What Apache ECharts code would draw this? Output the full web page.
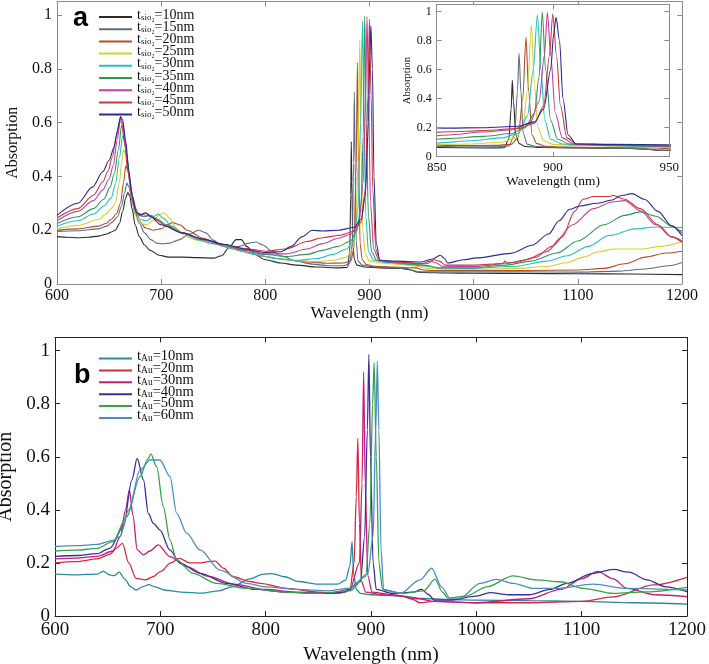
<!DOCTYPE html>
<html><head><meta charset="utf-8">
<script src="https://cdn.jsdelivr.net/npm/echarts@6/dist/echarts.min.js"></script>
<style>html,body{margin:0;padding:0;background:#fff}#c{width:709px;height:664px}</style>
</head><body><div id="c"></div>
<script>
// ---------- Panel a data (wavelength nm, absorption) ----------
const aThick = [10, 15, 20, 25, 30, 35, 40, 45, 50];
const aColors = ['#2b2b2b', '#5d6d86', '#b0502a', '#d6cf2e', '#26c0c0', '#2e9a50', '#c13fa6', '#cc3a3a', '#2a2a96'];
const a10 = [[600,0.176],[610,0.174],[620,0.172],[630,0.174],[640,0.178],[648,0.186],[652,0.193],[656,0.2],[660,0.225],[663,0.27],[666,0.32],[668,0.34],[670,0.325],[672,0.28],[675,0.22],[679,0.176],[684,0.145],[689,0.126],[698,0.107],[707,0.1],[720,0.1],[735,0.098],[750,0.096],[758,0.105],[765,0.135],[772,0.165],[777,0.165],[782,0.14],[790,0.11],[800,0.09],[815,0.078],[830,0.07],[850,0.063],[870,0.06],[879,0.062],[881,0.12],[882,0.33],[882.5,0.529],[883,0.38],[884,0.15],[885.5,0.09],[888,0.07],[895,0.063],[910,0.06],[930,0.058],[940,0.052],[945,0.045],[950,0.043],[975,0.041],[1000,0.04],[1050,0.039],[1100,0.038],[1150,0.037],[1200,0.035]];
const a15 = [[600,0.195],[620,0.198],[640,0.205],[648,0.215],[653,0.23],[658,0.25],[662,0.29],[665,0.34],[667,0.375],[669,0.36],[672,0.31],[675,0.26],[679,0.226],[684,0.19],[690,0.165],[696,0.152],[701,0.149],[708,0.152],[717,0.164],[727,0.185],[736,0.2],[743,0.19],[750,0.163],[758,0.142],[766,0.136],[775,0.14],[784,0.152],[791,0.156],[798,0.145],[805,0.125],[815,0.105],[830,0.085],[845,0.074],[860,0.068],[875,0.068],[881,0.075],[883.5,0.15],[884.7,0.45],[885.4,0.713],[886.2,0.45],[887.2,0.16],[889,0.085],[893,0.07],[900,0.065],[915,0.062],[935,0.058],[942,0.05],[948,0.045],[1000,0.045],[1050,0.045],[1100,0.044],[1140,0.048],[1165,0.056],[1187,0.068],[1200,0.08]];
const a20 = [[600,0.2],[620,0.205],[640,0.215],[647,0.225],[652,0.24],[657,0.26],[661,0.3],[664,0.38],[666,0.44],[668,0.42],[671,0.35],[675,0.27],[679,0.235],[685,0.208],[692,0.2],[700,0.205],[706,0.22],[711,0.228],[718,0.22],[725,0.2],[740,0.17],[760,0.14],[780,0.12],[800,0.102],[820,0.09],[840,0.082],[860,0.077],[875,0.078],[882,0.085],[885,0.13],[887,0.4],[888.4,0.823],[889.5,0.45],[891,0.15],[893,0.09],[897,0.072],[905,0.066],[920,0.063],[945,0.06],[952,0.052],[960,0.05],[1000,0.05],[1050,0.05],[1100,0.052],[1125,0.058],[1145,0.075],[1165,0.1],[1185,0.115],[1200,0.122]];
const a25 = [[600,0.205],[620,0.218],[640,0.24],[647,0.26],[652,0.28],[656,0.3],[660,0.38],[662,0.45],[664,0.5],[666,0.48],[669,0.4],[672,0.32],[676,0.25],[681,0.225],[686,0.22],[692,0.235],[698,0.258],[703,0.265],[708,0.245],[715,0.205],[725,0.175],[735,0.162],[750,0.15],[770,0.13],[790,0.11],[810,0.095],[830,0.087],[850,0.083],[865,0.088],[878,0.1],[884,0.13],[887,0.2],[889,0.45],[890.7,0.908],[892,0.5],[893.5,0.2],[896,0.11],[900,0.085],[910,0.078],[930,0.072],[945,0.066],[955,0.058],[970,0.055],[1000,0.055],[1040,0.057],[1070,0.065],[1090,0.08],[1105,0.1],[1120,0.12],[1135,0.13],[1160,0.13],[1180,0.14],[1200,0.158]];
const a30 = [[600,0.215],[620,0.235],[635,0.26],[645,0.29],[652,0.32],[656,0.37],[660,0.47],[663,0.55],[665,0.54],[668,0.45],[671,0.35],[675,0.27],[680,0.24],[686,0.235],[692,0.25],[697,0.26],[702,0.245],[710,0.215],[720,0.19],[735,0.165],[750,0.15],[770,0.13],[790,0.11],[810,0.095],[830,0.088],[850,0.095],[865,0.11],[878,0.13],[885,0.16],[889,0.28],[891.5,0.6],[893.3,0.977],[894.8,0.6],[896.5,0.25],[899,0.12],[904,0.088],[915,0.08],[940,0.072],[955,0.066],[965,0.06],[1000,0.058],[1040,0.066],[1070,0.085],[1090,0.105],[1110,0.14],[1130,0.18],[1155,0.205],[1175,0.212],[1200,0.21]];
const a35 = [[600,0.225],[620,0.25],[635,0.28],[645,0.315],[651,0.36],[655,0.41],[659,0.5],[662,0.59],[664,0.57],[667,0.48],[670,0.38],[674,0.29],[679,0.255],[684,0.25],[690,0.255],[697,0.24],[705,0.22],[720,0.19],[740,0.165],[760,0.145],[780,0.125],[800,0.11],[820,0.102],[840,0.11],[855,0.125],[870,0.14],[882,0.16],[888,0.2],[892,0.3],[894,0.55],[895.4,0.996],[896.8,0.6],[899,0.25],[902,0.12],[907,0.088],[920,0.08],[945,0.072],[957,0.068],[965,0.06],[1000,0.06],[1030,0.07],[1055,0.085],[1080,0.115],[1100,0.16],[1125,0.22],[1145,0.255],[1160,0.268],[1175,0.252],[1190,0.216],[1200,0.19]];
const a40 = [[600,0.235],[620,0.27],[635,0.31],[644,0.35],[650,0.39],[654,0.44],[658,0.54],[661,0.615],[663,0.6],[666,0.5],[669,0.4],[673,0.3],[678,0.258],[683,0.252],[688,0.255],[695,0.24],[705,0.215],[720,0.19],[740,0.165],[760,0.145],[780,0.127],[800,0.112],[820,0.112],[840,0.13],[855,0.15],[870,0.17],[882,0.185],[890,0.23],[894,0.38],[896.3,0.7],[897.6,0.994],[899,0.7],[901,0.3],[904,0.13],[909,0.088],[925,0.08],[950,0.075],[958,0.085],[963,0.08],[970,0.066],[1000,0.065],[1040,0.08],[1060,0.1],[1075,0.14],[1095,0.22],[1115,0.28],[1133,0.305],[1145,0.31],[1160,0.272],[1175,0.22],[1190,0.175],[1200,0.16]];
const a45 = [[600,0.245],[620,0.28],[635,0.33],[644,0.38],[649,0.42],[653,0.47],[657,0.55],[660,0.605],[662,0.6],[665,0.52],[668,0.42],[672,0.33],[677,0.265],[682,0.258],[686,0.262],[693,0.245],[705,0.215],[720,0.19],[740,0.166],[760,0.147],[780,0.132],[800,0.122],[820,0.13],[840,0.158],[855,0.172],[870,0.18],[885,0.195],[892,0.23],[896,0.35],[898.5,0.7],[899.9,0.984],[901.5,0.7],[903.2,0.35],[906,0.13],[910,0.088],[925,0.082],[955,0.075],[962,0.09],[967,0.085],[973,0.07],[1000,0.07],[1028,0.076],[1030,0.085],[1032,0.077],[1050,0.09],[1070,0.12],[1085,0.175],[1097,0.27],[1105,0.315],[1115,0.325],[1131,0.325],[1133,0.33],[1145,0.315],[1160,0.28],[1177,0.22],[1190,0.175],[1200,0.155]];
const a50 = [[600,0.255],[620,0.3],[634,0.36],[644,0.417],[650,0.46],[655,0.51],[658,0.57],[661,0.622],[663,0.61],[666,0.53],[669,0.42],[672,0.33],[676,0.265],[680,0.258],[685,0.265],[690,0.25],[700,0.22],[720,0.19],[740,0.167],[760,0.148],[780,0.13],[800,0.117],[815,0.12],[825,0.14],[835,0.175],[845,0.2],[855,0.197],[870,0.2],[885,0.21],[892,0.24],[896,0.33],[899,0.6],[900.3,0.85],[901.3,0.961],[902.8,0.8],[904.3,0.4],[906.5,0.15],[910,0.088],[925,0.085],[950,0.082],[960,0.092],[968,0.107],[972,0.095],[975,0.078],[990,0.09],[1003,0.097],[1036,0.114],[1056,0.144],[1072,0.186],[1082,0.235],[1092,0.277],[1102,0.29],[1118,0.3],[1133,0.312],[1141,0.328],[1152,0.336],[1164,0.315],[1177,0.27],[1190,0.216],[1200,0.18]];
const aData = [a10, a15, a20, a25, a30, a35, a40, a45, a50];

// ---------- Panel b data ----------
const bThick = [10, 20, 30, 40, 50, 60];
const bColors = ['#2a8a9e', '#d42a3c', '#c41c78', '#3b2d9c', '#36a34a', '#4a8ec6'];
const b10 = [[600,0.158],[620,0.155],[640,0.158],[646,0.168],[652,0.155],[656,0.152],[661,0.165],[666,0.14],[672,0.11],[677,0.098],[683,0.11],[689,0.118],[695,0.11],[705,0.097],[720,0.09],[740,0.086],[755,0.095],[768,0.11],[785,0.14],[797,0.157],[806,0.16],[818,0.148],[831,0.13],[850,0.12],[868,0.12],[876,0.135],[880,0.19],[882,0.28],[883.5,0.16],[886,0.1],[890,0.085],[900,0.08],[930,0.075],[950,0.066],[975,0.062],[1000,0.06],[1050,0.058],[1100,0.055],[1150,0.05],[1200,0.045]];
const b20 = [[600,0.2],[620,0.205],[640,0.215],[652,0.232],[658,0.255],[664,0.274],[670,0.2],[677,0.142],[686,0.136],[693,0.148],[700,0.167],[710,0.2],[718,0.217],[728,0.2],[738,0.2],[745,0.205],[752,0.207],[760,0.18],[769,0.148],[785,0.13],[795,0.123],[820,0.104],[850,0.09],[870,0.085],[880,0.1],[884,0.2],[886,0.45],[887.5,0.67],[889,0.35],[891,0.13],[895,0.09],[910,0.08],[930,0.075],[940,0.062],[946,0.05],[960,0.055],[1000,0.05],[1050,0.05],[1100,0.055],[1130,0.072],[1168,0.117],[1200,0.146]];
const b30 = [[600,0.215],[620,0.218],[640,0.225],[655,0.245],[662,0.3],[667,0.4],[670.6,0.475],[674,0.38],[678,0.25],[684,0.23],[690,0.245],[698,0.268],[709,0.224],[725,0.186],[745,0.15],[770,0.12],[800,0.1],[830,0.09],[860,0.085],[880,0.1],[889,0.2],[891.5,0.5],[893,0.92],[894.5,0.5],[897,0.15],[901,0.09],[920,0.08],[945,0.065],[960,0.055],[1000,0.05],[1050,0.065],[1080,0.1],[1100,0.14],[1115,0.168],[1130,0.14],[1143,0.104],[1170,0.08],[1200,0.073]];
const b40 = [[600,0.225],[620,0.228],[640,0.235],[652,0.255],[665,0.337],[673,0.513],[678,0.594],[684,0.513],[688.6,0.387],[693.4,0.349],[699.7,0.324],[709,0.249],[718.7,0.199],[737.7,0.161],[763,0.123],[790,0.1],[820,0.09],[850,0.085],[875,0.09],[890,0.13],[894,0.3],[896.5,0.7],[898,0.985],[899.5,0.6],[902,0.2],[905,0.1],[920,0.085],[940,0.09],[948,0.1],[955,0.08],[960,0.06],[975,0.06],[1000,0.075],[1013,0.088],[1030,0.08],[1050,0.08],[1070,0.1],[1086,0.123],[1110,0.16],[1130,0.176],[1145,0.165],[1162,0.136],[1180,0.11],[1200,0.092]];
const b50 = [[600,0.245],[620,0.248],[640,0.255],[655,0.28],[668,0.374],[680.7,0.525],[688,0.59],[690.9,0.611],[696.5,0.563],[702.8,0.412],[709.2,0.286],[715.5,0.211],[731,0.161],[753.5,0.123],[780,0.105],[820,0.09],[850,0.085],[880,0.095],[895,0.15],[899,0.35],[901.5,0.8],[903,0.955],[905,0.6],[907.5,0.2],[911,0.1],[930,0.085],[950,0.095],[960.8,0.138],[968,0.09],[973,0.067],[990,0.075],[1010,0.11],[1035,0.151],[1057,0.136],[1079.5,0.129],[1101.6,0.104],[1130,0.085],[1161.8,0.091],[1200,0.108]];
const b60 = [[600,0.262],[620,0.265],[640,0.27],[655,0.285],[661.7,0.299],[670,0.4],[680.7,0.55],[690.2,0.588],[699.7,0.588],[709.2,0.525],[715.5,0.387],[725,0.312],[737.7,0.249],[756.7,0.173],[782,0.123],[800,0.11],[830,0.1],[860,0.095],[880,0.105],[897,0.16],[902,0.3],[904.5,0.7],[906,0.96],[907.5,0.7],[909.5,0.25],[912,0.098],[927.5,0.085],[946.5,0.136],[957.6,0.18],[967,0.11],[975,0.067],[984.5,0.067],[1003.5,0.123],[1019,0.138],[1035,0.123],[1054,0.104],[1076,0.104],[1111,0.12],[1142.8,0.104],[1200,0.098]];
const bData = [b10, b20, b30, b40, b50, b60];

// ---------- Axis ticks ----------
const xMin = 600, xMax = 1200, xStep = 100;
const insetMin = 850, insetMax = 950, insetStep = 50;
const yMin = 0, yMax = 1.05, yStep = 0.2;

const serif = 'Liberation Serif';
const aNames = aThick.map(t => 'tsio2=' + t + 'nm');
const bNames = bThick.map(t => 'tAu=' + t + 'nm');

function xAx(grid, pos, min, max, step, fs, lineColor, showLabel, name, nameGap, nameFs, margin) {
  return {
    type: 'value', gridIndex: grid, position: pos, min: min, max: max, interval: step,
    axisLine: { show: true, onZero: false, lineStyle: { color: lineColor, width: 1 } },
    axisTick: { show: true, inside: true, length: 5, lineStyle: { color: lineColor } },
    axisLabel: { show: showLabel, fontFamily: serif, fontSize: fs, color: '#111', margin: margin || 4, formatter: v => String(v) },
    splitLine: { show: false },
    name: name || '', nameLocation: 'middle', nameGap: nameGap || 0,
    nameTextStyle: { fontFamily: serif, fontSize: nameFs || fs, color: '#111' }
  };
}
function yAx(grid, pos, fs, lineColor, showLabel, name, nameGap, nameFs) {
  return {
    type: 'value', gridIndex: grid, position: pos, min: yMin, max: yMax, interval: yStep,
    axisLine: { show: true, onZero: false, lineStyle: { color: lineColor, width: 1 } },
    axisTick: { show: true, inside: true, length: 5, lineStyle: { color: lineColor } },
    axisLabel: { show: showLabel, fontFamily: serif, fontSize: fs, color: '#111', margin: 5, showMaxLabel: false,
      formatter: v => (Math.abs(v * 5 - Math.round(v * 5)) < 1e-6 ? String(Math.round(v * 10) / 10) : '') },
    splitLine: { show: false },
    name: name || '', nameLocation: 'middle', nameGap: nameGap || 0,
    nameTextStyle: { fontFamily: serif, fontSize: nameFs || fs, color: '#111' }
  };
}

const series = [];
aData.forEach((d, i) => {
  series.push({ name: aNames[i], type: 'line', xAxisIndex: 0, yAxisIndex: 0, data: d, showSymbol: false, symbol: 'none',
    smooth: 0.3, smoothMonotone: 'x', lineStyle: { width: 1.1, color: aColors[i] }, itemStyle: { color: aColors[i] }, z: 2 });
});
aData.forEach((d, i) => {
  series.push({ name: aNames[i], type: 'line', xAxisIndex: 2, yAxisIndex: 2, data: d, showSymbol: false, symbol: 'none',
    smooth: 0.3, smoothMonotone: 'x', clip: true, lineStyle: { width: 1.1, color: aColors[i] }, itemStyle: { color: aColors[i] }, z: 6 });
});
bData.forEach((d, i) => {
  series.push({ name: bNames[i], type: 'line', xAxisIndex: 4, yAxisIndex: 4, data: d, showSymbol: false, symbol: 'none',
    smooth: 0.3, smoothMonotone: 'x', lineStyle: { width: 1.3, color: bColors[i] }, itemStyle: { color: bColors[i] }, z: 2 });
});

const legendRichA = {
  t: { fontFamily: serif, fontSize: 14, color: '#111', lineHeight: 10, verticalAlign: 'bottom' },
  s: { fontFamily: serif, fontSize: 9, color: '#111', lineHeight: 10, verticalAlign: 'bottom' }
};
const legendRichB = {
  t: { fontFamily: serif, fontSize: 14.5, color: '#111', lineHeight: 10, verticalAlign: 'bottom' },
  s: { fontFamily: serif, fontSize: 9.5, color: '#111', lineHeight: 10, verticalAlign: 'bottom' }
};

const chart = echarts.init(document.getElementById('c'), null, { renderer: 'canvas' });
chart.setOption({
  animation: false,
  backgroundColor: '#fff',
  grid: [
    { left: 57, right: 27, top: 1.5, bottom: 380, show: false, containLabel: false, outerBoundsMode: 'none' },
    { left: 436.7, right: 39.7, top: 4.45, bottom: 507.3, show: true, backgroundColor: '#fff', borderWidth: 0, z: 4, containLabel: false, outerBoundsMode: 'none' },
    { left: 55, right: 22, top: 337.4, bottom: 48, show: false, containLabel: false, outerBoundsMode: 'none' }
  ],
  xAxis: [
    xAx(0, 'bottom', xMin, xMax, xStep, 16, '#8c8c8c', true, 'Wavelength (nm)', 21, 17),
    xAx(0, 'top', xMin, xMax, xStep, 16, '#8c8c8c', false),
    Object.assign(xAx(1, 'bottom', insetMin, insetMax, insetStep, 13, '#8c8c8c', true, 'Wavelength (nm)', 14, 13.5), { z: 7 }),
    Object.assign(xAx(1, 'top', insetMin, insetMax, insetStep, 13, '#8c8c8c', false), { z: 7 }),
    xAx(2, 'bottom', xMin, xMax, xStep, 19, '#222', true, 'Wavelength (nm)', 28.5, 19.5, 5),
    xAx(2, 'top', xMin, xMax, xStep, 19, '#222', false)
  ],
  yAxis: [
    yAx(0, 'left', 16, '#8c8c8c', true, 'Absorption', 26, 16),
    yAx(0, 'right', 16, '#8c8c8c', false),
    Object.assign(yAx(1, 'left', 12, '#8c8c8c', true, 'Absorption', 20, 10.5), { z: 7 }),
    Object.assign(yAx(1, 'right', 12, '#8c8c8c', false), { z: 7 }),
    yAx(2, 'left', 19, '#222', true, 'Absorption', 27, 20),
    yAx(2, 'right', 19, '#222', false)
  ],
  legend: [
    { data: aNames, orient: 'vertical', left: 99, top: 8, itemWidth: 33, itemHeight: 2, icon: 'rect', itemGap: -1.8,
      padding: 0, selectedMode: false,
      textStyle: { fontFamily: serif, fontSize: 14, lineHeight: 10, color: '#111', rich: legendRichA },
      formatter: n => '{t|t}{s|sio\u2082}{t|' + n.slice(n.indexOf('=')) + '}' },
    { data: bNames, orient: 'vertical', left: 99, top: 348.5, itemWidth: 33, itemHeight: 2, icon: 'rect', itemGap: -3.1,
      padding: 0, selectedMode: false,
      textStyle: { fontFamily: serif, fontSize: 14.5, lineHeight: 10, color: '#111', rich: legendRichB },
      formatter: n => '{t|t}{s|Au}{t|' + n.slice(n.indexOf('=')) + '}' }
  ],
  graphic: [
    { type: 'text', left: 73, top: 5, style: { text: 'a', font: 'bold 27px "Liberation Sans"', fill: '#000' }, z: 10 },
    { type: 'text', left: 74, top: 362, style: { text: 'b', font: 'bold 27px "Liberation Sans"', fill: '#000' }, z: 10 }
  ],
  series: series
});
</script>
</body></html>
